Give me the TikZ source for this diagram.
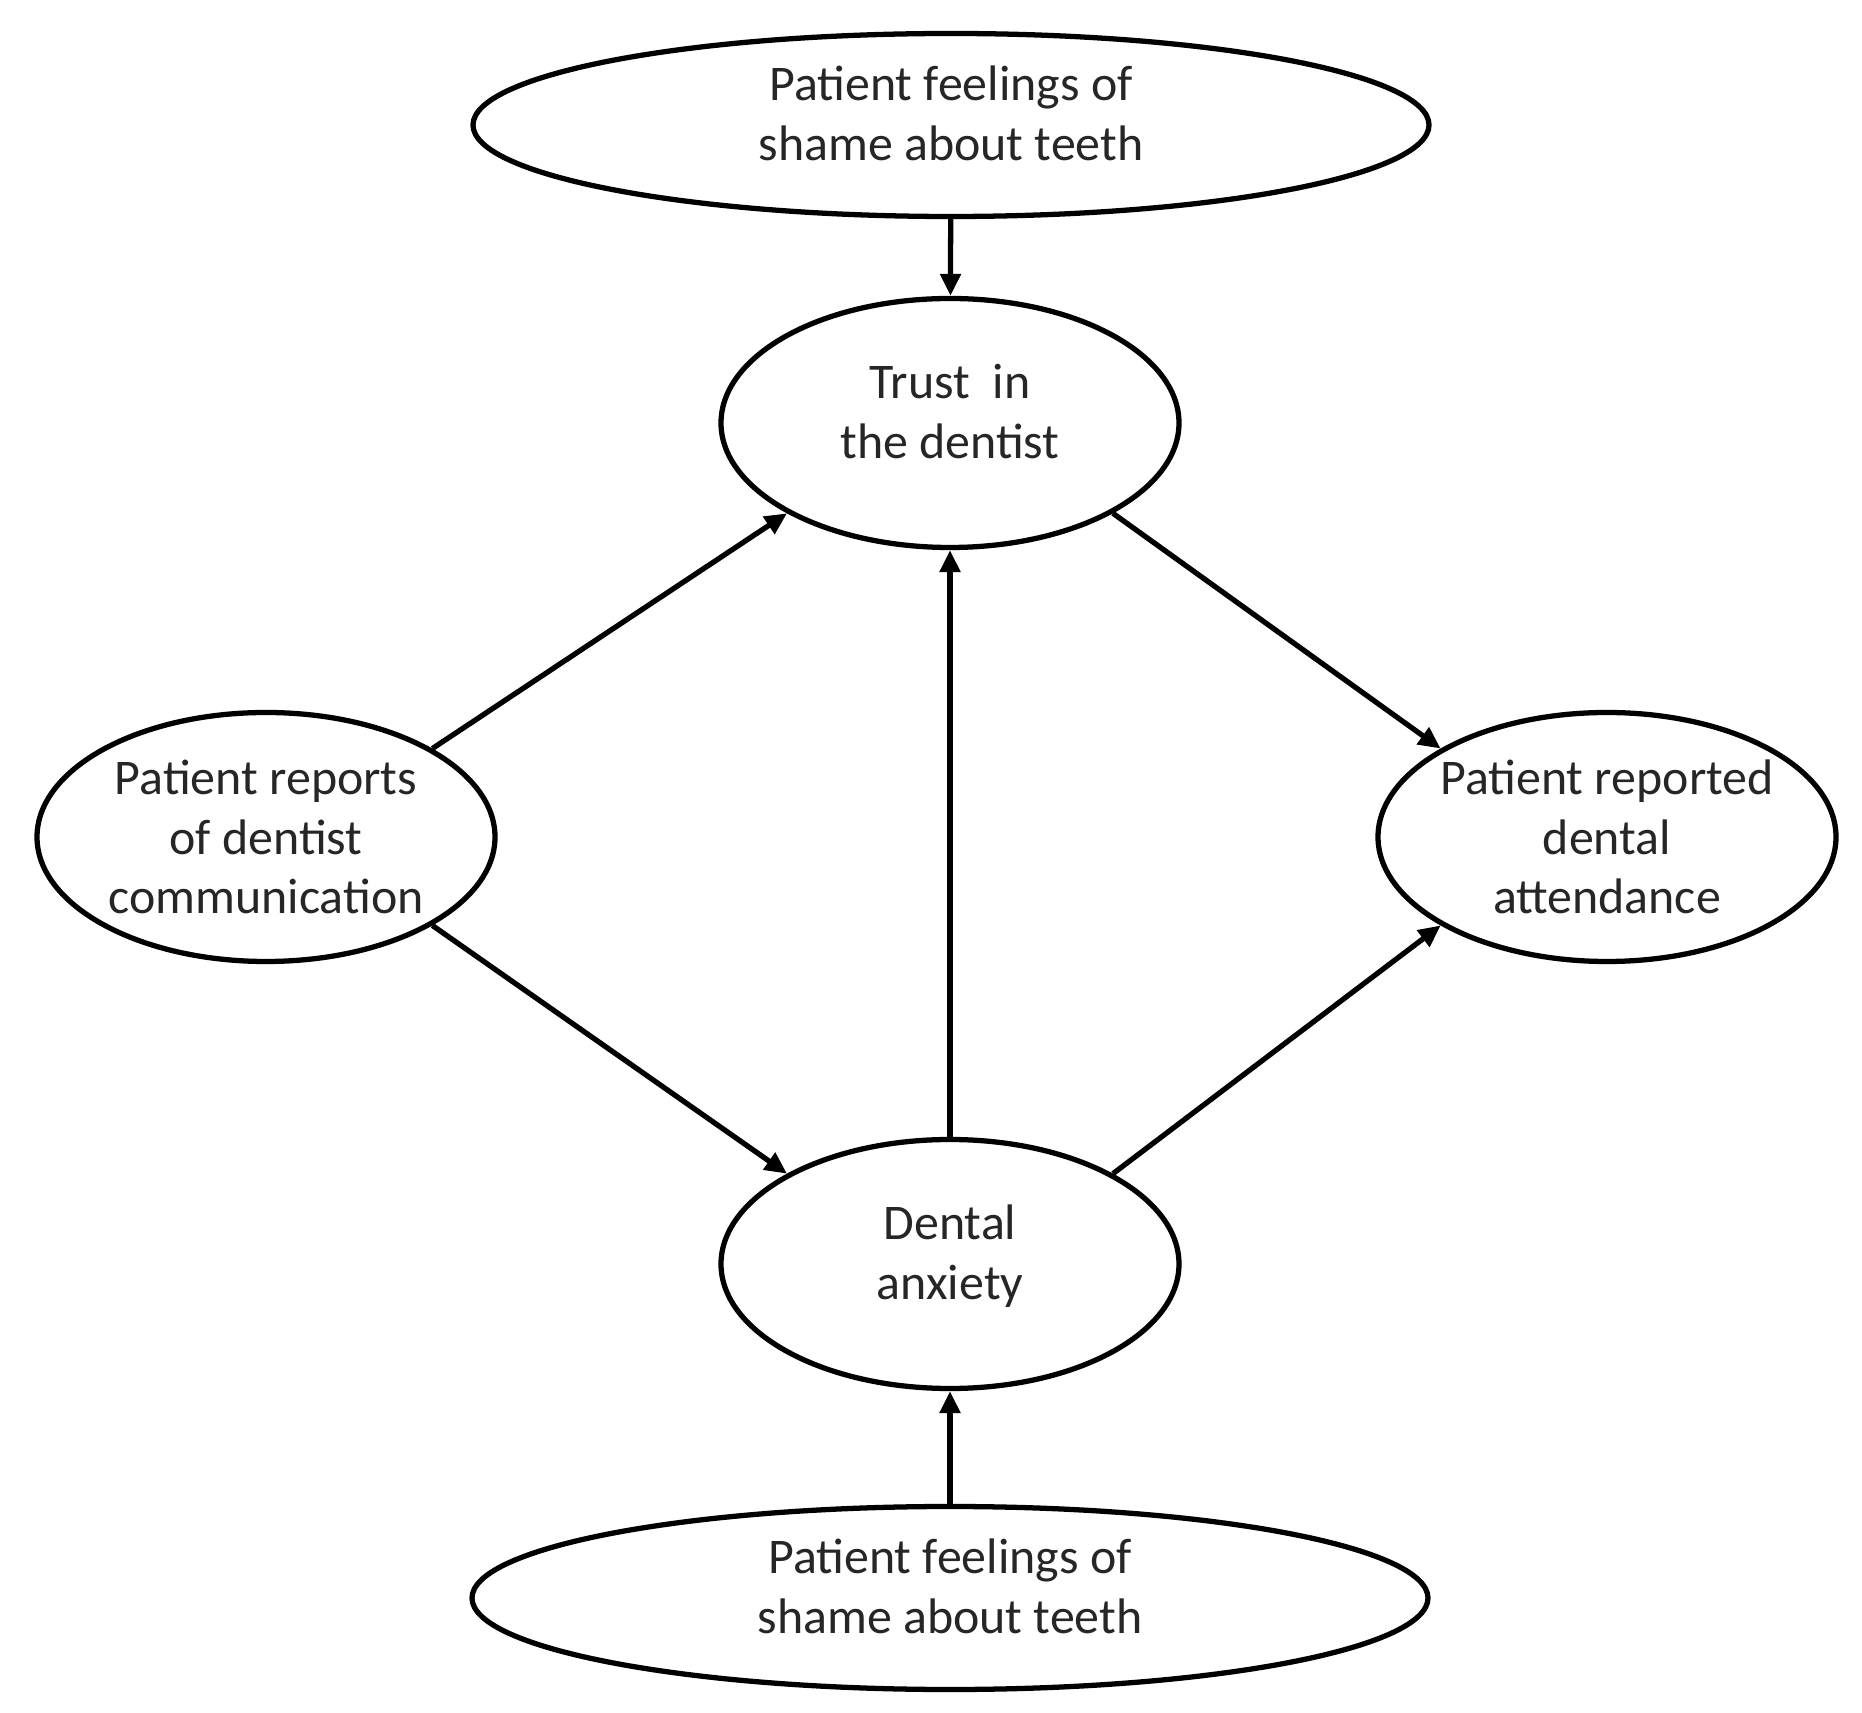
\documentclass[tikz,border=0pt]{standalone}
\usepackage{fontspec}
\setmainfont{Carlito}
\usetikzlibrary{shapes.geometric,arrows.meta}
\newcommand{\lift}{\rule[-0.24cm]{0pt}{0pt}}

\begin{document}
\begin{tikzpicture}[inner sep=0pt, inner xsep=-0.3cm, line width=1.5pt,
    >={Triangle[length=2.2mm,width=2mm]},
    var/.style={ellipse, draw, align=center, text=black!85,
      font=\fontsize{14.2}{17}\selectfont, minimum width=4.58cm, minimum height=2.49cm},
    wide/.style={var, minimum width=9.56cm, minimum height=1.83cm}]
  \useasboundingbox (0,0) rectangle (18.62,-17.13);
  \path node (St) at ( 9.51, -1.25) [wide] {Patient feelings of\\shame about teeth\lift}
        node (T)  at ( 9.50, -4.23) [var]  {Trust\ \ in\\the dentist\lift}
        node (C)  at ( 2.66, -8.37) [var]  {Patient reports\\of dentist\\communication}
        node (A)  at (16.07, -8.37) [var]  {Patient reported\\dental\\attendance}
        node (D)  at ( 9.50,-12.64) [var]  {Dental\\anxiety\lift}
        node (Sb) at ( 9.50,-15.98) [wide] {Patient feelings of\\shame about teeth\lift};
  \draw[->] (St) -- (T);
  \draw[->] (C.28) -- (T.209);
  \draw[->] (T.331) -- (A.152);
  \draw[->] (C.-28) -- (D.151);
  \draw[->] (D.29) -- (A.208);
  \draw[->] (D) -- (T);
  \draw[->] (Sb) -- (D);
\end{tikzpicture}
\end{document}
